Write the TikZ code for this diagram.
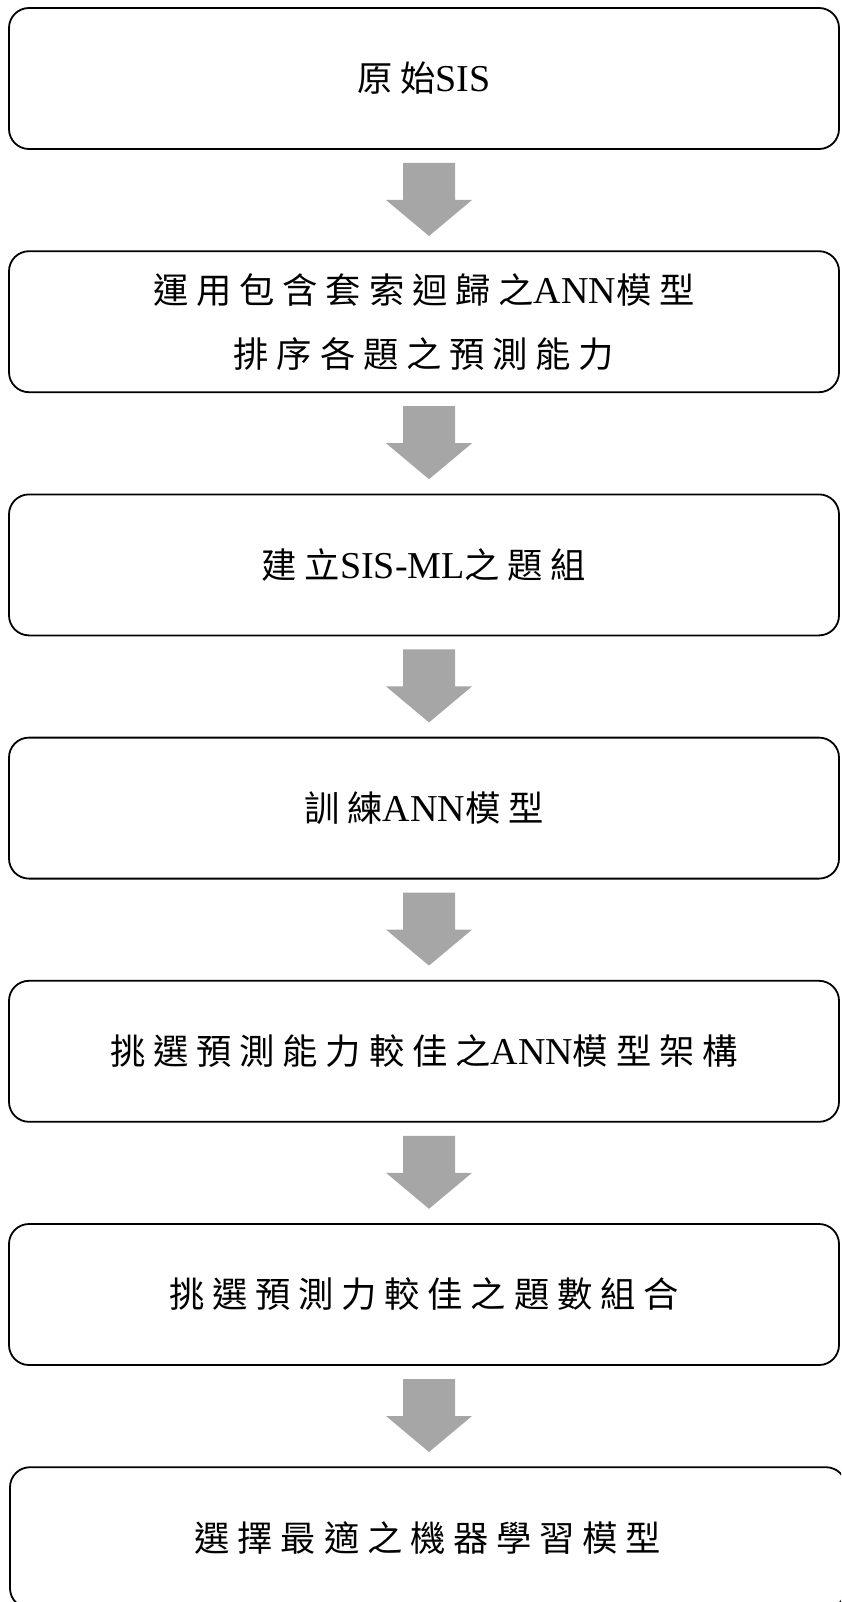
\documentclass[tikz,border=0pt]{standalone}
\usepackage{fontspec}
\setmainfont{Liberation Serif}
\newfontfamily\cjk[LetterSpace=22,Scale=0.93]{Noto Sans CJK TC}
\definecolor{arrowgray}{HTML}{A6A6A6}
\newcommand{\zh}[1]{{\cjk #1}}
\tikzset{
  stepbox/.style={draw=black, line width=1.8pt, rounded corners=20pt,
    minimum width=830pt, minimum height=141pt, inner sep=0pt,
    font=\fontsize{38}{64}\selectfont, align=center},
  blockarrow/.style={fill=arrowgray, draw=none}
}
\newcommand{\downarrowat}[1]{%
  \fill[blockarrow, shift={(#1)}] (-26,-36.5) -- (26,-36.5) -- (26,0.5) -- (43,0.5)
    -- (0,36.5) -- (-43,0.5) -- (-26,0.5) -- cycle;}
\begin{document}
\begin{tikzpicture}[x=1pt,y=-1pt]
\useasboundingbox (0,0) rectangle (841,1602);
\clip (0,0) rectangle (841,1602);
\node[stepbox] (b1) at (424,78.5) {\zh{原始}SIS};
\node[stepbox] (b2) at (424,321.7) {\zh{運用包含套索迴歸之}ANN\zh{模型}\\\zh{排序各題之預測能力}};
\node[stepbox] (b3) at (424,564.9) {\zh{建立}SIS-ML\zh{之題組}};
\node[stepbox] (b4) at (424,808.1) {\zh{訓練}ANN\zh{模型}};
\node[stepbox] (b5) at (424,1051.3) {\zh{挑選預測能力較佳之}ANN\zh{模型架構}};
\node[stepbox] (b6) at (424,1294.5) {\zh{挑選預測力較佳之題數組合}};
\node[stepbox, minimum width=836pt] (b7) at (428,1537.7) {\zh{選擇最適之機器學習模型}};
\coordinate (a1) at (429,199.5);
\coordinate (a2) at (429,442.7);
\coordinate (a3) at (429,685.9);
\coordinate (a4) at (429,929.1);
\coordinate (a5) at (429,1172.3);
\coordinate (a6) at (429,1415.5);
\downarrowat{a1}
\downarrowat{a2}
\downarrowat{a3}
\downarrowat{a4}
\downarrowat{a5}
\downarrowat{a6}
\end{tikzpicture}
\end{document}
